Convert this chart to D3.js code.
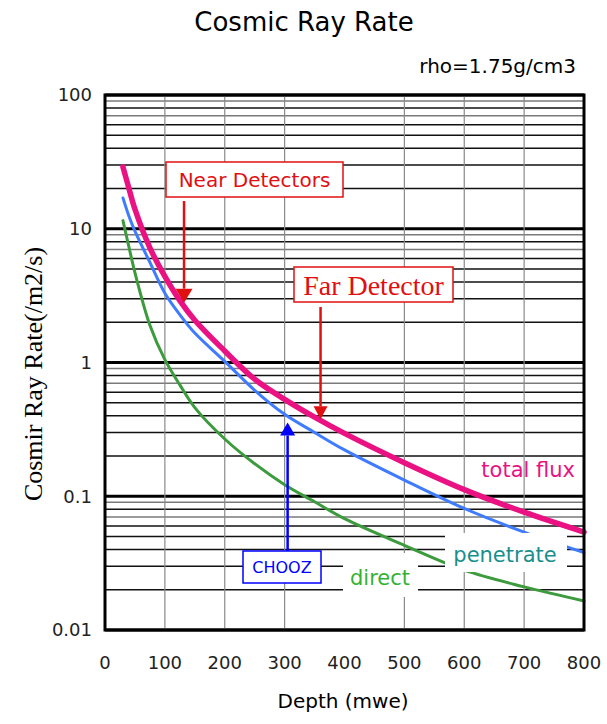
<!DOCTYPE html>
<meta charset="utf-8">
<!-- Load d3.js -->
<script src="https://d3js.org/d3.v7.min.js"></script>
<style>
  body { margin: 0; background: #fff; }
</style>
<div id="cosmic_viz"></div>
<script>

// data (depth in mwe, rate in /m2/s)
var depth       = [30, 40, 50, 75, 100, 125, 150, 200, 250, 300, 350, 400, 500, 600, 700, 800];
var totalFlux   = [29, 20, 14, 7.2, 4.4, 2.9, 2.07, 1.22, 0.75, 0.53, 0.39, 0.295, 0.178, 0.112, 0.076, 0.054];
var penetrate   = [17, 12.4, 9.6, 5.6, 3.3, 2.28, 1.66, 1.02, 0.62, 0.41, 0.30, 0.222, 0.132, 0.081, 0.054, 0.038];
var direct      = [11.5, 7.3, 4.7, 1.9, 1.05, 0.68, 0.46, 0.268, 0.175, 0.122, 0.091, 0.068, 0.043, 0.028, 0.021, 0.0165];

var xTicks = [0, 100, 200, 300, 400, 500, 600, 700, 800];
var xGrid  = [100, 200, 300, 500, 600, 700];
var yTicks = [0.01, 0.1, 1, 10, 100];
var yTickLabels = ["0.01", "0.1", "1", "10", "100"];

// annotations: depth + rate where the arrow points
var near  = {label: "Near Detectors", depth: 132, rate: 2.8};
var far   = {label: "Far Detector",   depth: 360, rate: 0.376};
var chooz = {label: "CHOOZ",          depth: 305, rate: 0.356};

var sans  = "'DejaVu Sans', Verdana, sans-serif";
var serif = "'Liberation Serif', 'DejaVu Serif', serif";

// set the dimensions and margins of the graph
var W = 607, H = 724;
var margin = {top: 95, right: 23, bottom: 94, left: 105},
    width = W - margin.left - margin.right,
    height = H - margin.top - margin.bottom;

var svg = d3.select("#cosmic_viz")
  .append("svg")
    .attr("width", W)
    .attr("height", H)
    .style("font-family", sans);

var g = svg.append("g")
    .attr("transform", "translate(" + margin.left + "," + margin.top + ")");

var x = d3.scaleLinear().domain([0, 800]).range([0, width]);
var y = d3.scaleLog().domain([0.01, 100]).range([height, 0]);

// horizontal grid: every 1..9 within each decade
var minor = [];
yTicks.slice(0, -1).forEach(function(d) {
  for (var k = 2; k <= 9; k++) minor.push(d * k);
});
g.selectAll(".minor")
  .data(minor)
  .enter().append("line")
    .attr("x1", 0).attr("x2", width)
    .attr("y1", function(d) { return y(d); })
    .attr("y2", function(d) { return y(d); })
    .attr("stroke", function(d) {
      var m = Math.round(d / Math.pow(10, Math.floor(Math.log10(d) + 1e-9)));
      return (m === 9 || m === 7) ? "#7a7a7a" : "#111";
    })
    .attr("stroke-width", 1.5);

g.selectAll(".major")
  .data(yTicks)
  .enter().append("line")
    .attr("x1", 0).attr("x2", width)
    .attr("y1", function(d) { return y(d); })
    .attr("y2", function(d) { return y(d); })
    .attr("stroke", "#000")
    .attr("stroke-width", 3);

// vertical grid
g.selectAll(".vgrid")
  .data(xGrid)
  .enter().append("line")
    .attr("x1", function(d) { return x(d); })
    .attr("x2", function(d) { return x(d); })
    .attr("y1", 0).attr("y2", height)
    .attr("stroke", "#8a8a8a")
    .attr("stroke-width", 1.2);

// curves
var line = d3.line()
  .x(function(d) { return x(d[0]); })
  .y(function(d) { return y(d[1]); })
  .curve(d3.curveCatmullRom.alpha(0.5));

var series = [
  {values: direct,    color: "#3c9b3c", w: 3},
  {values: penetrate, color: "#3f7bff", w: 3},
  {values: totalFlux, color: "#ea1283", w: 5.5}
];
series.forEach(function(s) {
  g.append("path")
    .datum(depth.map(function(d, i) { return [d, s.values[i]]; }))
    .attr("fill", "none")
    .attr("stroke", s.color)
    .attr("stroke-width", s.w)
    .attr("stroke-linecap", "round")
    .attr("d", line);
});

// series labels (page coordinates), penetrate/direct sit on white patches
svg.append("text")
  .attr("x", 575).attr("y", 477)
  .attr("text-anchor", "end")
  .attr("fill", "#ea1283")
  .style("font-size", "21px")
  .text("total flux");

function whiteLabel(txt, x0, y0, x1, y1, tx, ty, color) {
  svg.append("rect")
    .attr("x", x0).attr("y", y0)
    .attr("width", x1 - x0).attr("height", y1 - y0)
    .attr("fill", "#fff");
  svg.append("text")
    .attr("x", tx).attr("y", ty)
    .attr("text-anchor", "middle")
    .attr("fill", color)
    .style("font-size", "21px")
    .text(txt);
}
whiteLabel("penetrate", 445, 533, 567, 572, 505, 562, "#17908c");
whiteLabel("direct", 343, 553, 418, 597, 380, 585, "#34b234");

// frame
g.append("rect")
  .attr("width", width).attr("height", height)
  .attr("fill", "none")
  .attr("stroke", "#000")
  .attr("stroke-width", 3);

// annotation boxes + arrows
function arrow(px, y0, y1, color, hw, hl) {
  var dir = y1 > y0 ? 1 : -1;
  svg.append("line")
    .attr("x1", px).attr("y1", y0)
    .attr("x2", px).attr("y2", y1 - dir * hl)
    .attr("stroke", color).attr("stroke-width", 2.5);
  svg.append("path")
    .attr("d", "M" + (px - hw / 2) + "," + (y1 - dir * hl) + "L" + (px + hw / 2) + "," + (y1 - dir * hl) + "L" + px + "," + y1 + "Z")
    .attr("fill", color);
}
function box(txt, x0, y0, x1, y1, color, font, size) {
  svg.append("rect")
    .attr("x", x0).attr("y", y0)
    .attr("width", x1 - x0).attr("height", y1 - y0)
    .attr("fill", "#fff")
    .attr("stroke", color).attr("stroke-width", 1.5);
  svg.append("text")
    .attr("x", (x0 + x1) / 2).attr("y", (y0 + y1) / 2)
    .attr("dy", "0.36em")
    .attr("text-anchor", "middle")
    .attr("fill", color)
    .style("font-family", font)
    .style("font-size", size + "px")
    .text(txt);
}

arrow(margin.left + x(near.depth), 201, margin.top + y(near.rate), "#e01010", 17, 14);
box(near.label, 166, 162, 343, 197, "#e01010", sans, 20);

arrow(margin.left + x(far.depth), 307, margin.top + y(far.rate), "#e01010", 14, 13);
box(far.label, 294, 267, 453, 302, "#e01010", serif, 28);

arrow(margin.left + x(chooz.depth), 551, margin.top + y(chooz.rate), "#0000ff", 15, 13);
box(chooz.label, 243, 551, 321, 583, "#0000ff", sans, 16);

// y axis tick labels
svg.selectAll(".ylab")
  .data(yTicks)
  .enter().append("text")
    .attr("x", margin.left - 13)
    .attr("y", function(d) { return margin.top + y(d); })
    .attr("dy", "0.35em")
    .attr("text-anchor", "end")
    .attr("fill", "#222")
    .style("font-size", "18px")
    .text(function(d, i) { return yTickLabels[i]; });

// x axis tick labels
svg.selectAll(".xlab")
  .data(xTicks)
  .enter().append("text")
    .attr("x", function(d) { return margin.left + x(d); })
    .attr("y", 663)
    .attr("dy", "0.35em")
    .attr("text-anchor", "middle")
    .attr("fill", "#222")
    .style("font-size", "18px")
    .text(function(d) { return d; });

// titles
svg.append("text")
  .attr("x", 304).attr("y", 31)
  .attr("text-anchor", "middle")
  .style("font-size", "26px")
  .text("Cosmic Ray Rate");

svg.append("text")
  .attr("x", 576).attr("y", 73)
  .attr("text-anchor", "end")
  .style("font-size", "20px")
  .text("rho=1.75g/cm3");

svg.append("text")
  .attr("x", 343).attr("y", 708)
  .attr("text-anchor", "middle")
  .style("font-size", "20px")
  .text("Depth (mwe)");

svg.append("text")
  .attr("transform", "translate(42,374)rotate(-90)")
  .attr("text-anchor", "middle")
  .style("font-family", serif)
  .style("font-size", "26px")
  .text("Cosmir Ray Rate(/m2/s)");

</script>
